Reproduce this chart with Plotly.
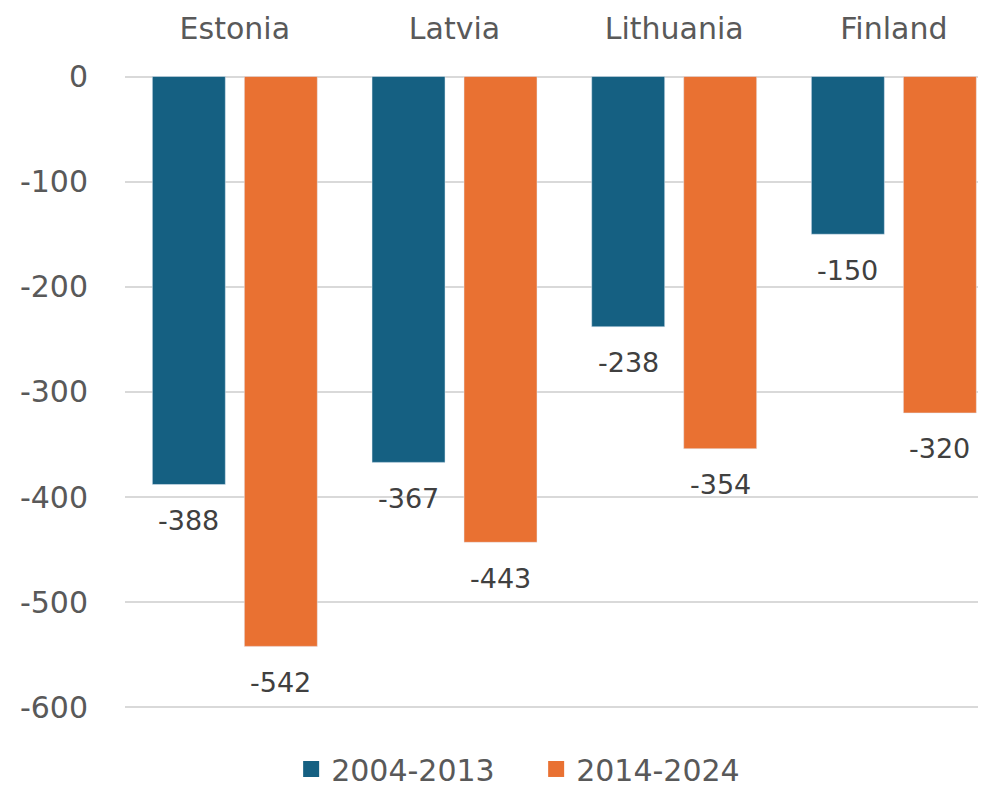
import plotly.graph_objects as go

categories = ["Estonia", "Latvia", "Lithuania", "Finland"]
series_names = ["2004-2013", "2014-2024"]
values_2004_2013 = [-388, -367, -238, -150]
values_2014_2024 = [-542, -443, -354, -320]
tick_values = [0, -100, -200, -300, -400, -500, -600]
colors = ["#156082", "#E97132"]

font_family = "DejaVu Sans, Verdana, sans-serif"

fig = go.Figure()
series = [values_2004_2013, values_2014_2024]
for name, vals, col in zip(series_names, series, colors):
    fig.add_trace(go.Bar(
        x=categories, y=vals, name=name, marker_color=col,
        showlegend=False, cliponaxis=False,
    ))
    # legend-only entry with a larger square symbol
    fig.add_trace(go.Scatter(
        x=[None], y=[None], mode="markers", name=name,
        marker=dict(symbol="square", size=20, color=col),
    ))

# data labels below bar ends
offsets = [-46, 46]
for vals, dx in zip(series, offsets):
    for cat, v in zip(categories, vals):
        fig.add_annotation(x=cat, y=v, text=str(v), showarrow=False,
                           xshift=dx, yshift=-36, xanchor="center", yanchor="middle",
                           font=dict(size=27, color="#404040", family=font_family))

fig.update_layout(
    width=982, height=780,
    margin=dict(l=117, r=12, t=67.5, b=78.3, autoexpand=False),
    plot_bgcolor="white", paper_bgcolor="white",
    barmode="group", bargap=0.1625, bargroupgap=0.2065,
    font=dict(family=font_family, size=30, color="#595959"),
    showlegend=True,
    legend=dict(orientation="h", x=0.482, xanchor="center", y=-0.052, yanchor="top",
                font=dict(size=30, color="#595959"), traceorder="normal",
                itemsizing="trace", entrywidth=200, entrywidthmode="pixels"),
)
fig.update_xaxes(side="top", showline=False, ticks="", automargin=False,
                 range=[-0.5, 3.383], ticklabelstandoff=30,
                 tickfont=dict(size=30, color="#595959"))
fig.update_yaxes(range=[-602.5, 0.5], tickvals=tick_values, ticktext=[str(v) for v in tick_values],
                 showgrid=True, gridcolor="#D9D9D9", gridwidth=1.5, automargin=False,
                 zeroline=True, zerolinecolor="#D9D9D9", zerolinewidth=1.5,
                 ticks="", ticklabelstandoff=36, tickfont=dict(size=30, color="#595959"))

fig.write_html("out.html")
